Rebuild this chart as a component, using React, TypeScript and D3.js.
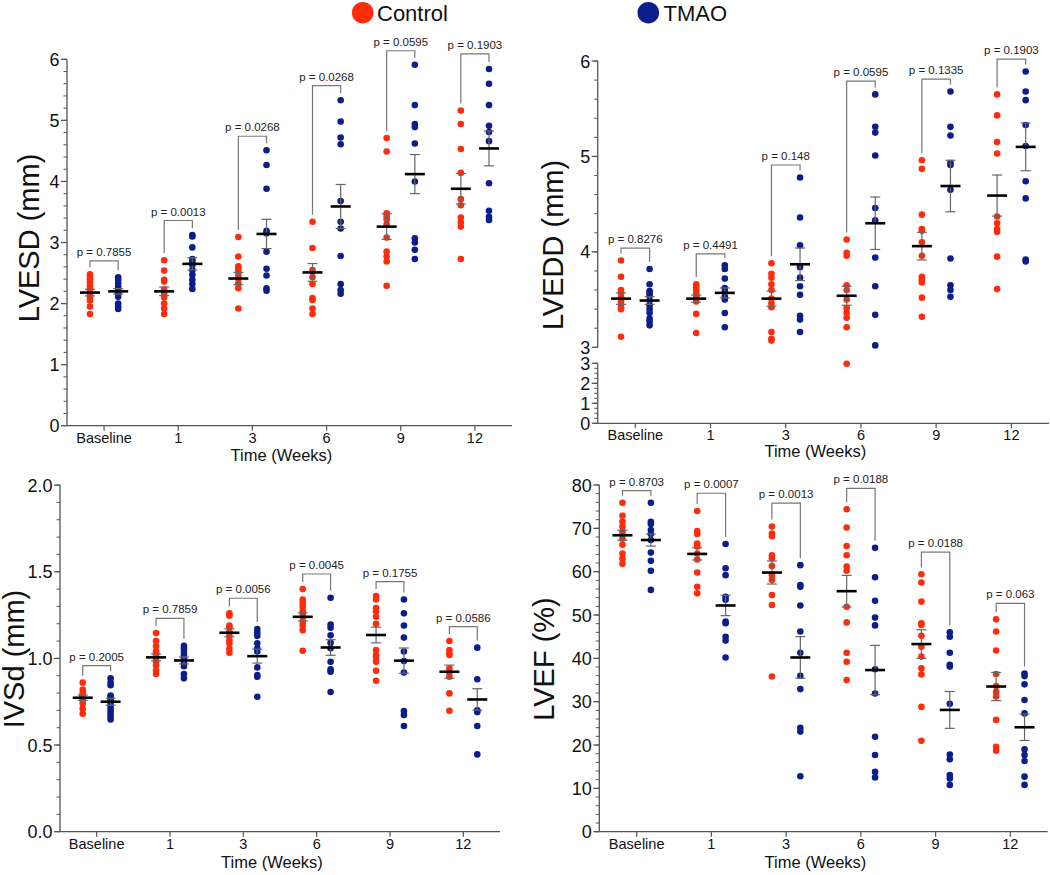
import React from 'react';
import * as d3 from 'd3';

const weeks = ['Baseline', '1', '3', '6', '9', '12'];

// ---------- LVESD ----------
const lvesdControl = [
  [2.48, 2.44, 2.40, 2.35, 2.30, 2.25, 2.20, 2.15, 2.10, 2.05, 1.95, 1.83],
  [2.71, 2.54, 2.39, 2.36, 2.23, 2.17, 2.10, 2.00, 1.92, 1.83],
  [3.09, 2.77, 2.61, 2.57, 2.54, 2.47, 2.41, 2.33, 2.25, 1.92],
  [3.34, 2.91, 2.55, 2.52, 2.43, 2.32, 2.09, 2.06, 1.92, 1.83],
  [4.71, 4.49, 3.48, 3.43, 3.38, 3.30, 3.08, 2.85, 2.77, 2.69, 2.29],
  [5.16, 4.94, 4.53, 4.14, 3.71, 3.61, 3.41, 3.33, 3.26, 2.73],
];
const lvesdTmao = [
  [2.43, 2.39, 2.33, 2.28, 2.22, 2.19, 2.17, 2.11, 2.00, 1.95, 1.91],
  [3.12, 3.10, 2.92, 2.73, 2.69, 2.63, 2.55, 2.47, 2.39, 2.32, 2.24],
  [4.51, 4.27, 3.88, 3.19, 3.15, 2.85, 2.57, 2.46, 2.25, 2.21],
  [5.33, 4.98, 4.72, 4.61, 3.68, 3.34, 3.23, 2.78, 2.32, 2.22, 2.16],
  [5.91, 5.25, 4.94, 4.89, 4.62, 4.00, 3.07, 3.00, 2.88, 2.73],
  [5.84, 5.60, 5.25, 4.91, 4.81, 4.66, 3.97, 3.52, 3.42, 3.37],
];
const lvesdControlMean = [2.18, 2.20, 2.41, 2.51, 3.26, 3.88];
const lvesdControlSem = [0.055, 0.07, 0.10, 0.145, 0.21, 0.25];
const lvesdTmaoMean = [2.20, 2.65, 3.14, 3.59, 4.12, 4.54];
const lvesdTmaoSem = [0.045, 0.10, 0.24, 0.36, 0.32, 0.285];
const lvesdP = ['0.7855', '0.0013', '0.0268', '0.0268', '0.0595', '0.1903'];
const lvesdBracket = [2.70, 3.36, 4.74, 5.57, 6.14, 6.09];

// ---------- LVEDD ----------
const lveddControl = [
  [3.91, 3.74, 3.60, 3.57, 3.52, 3.48, 3.45, 3.42, 3.40, 3.11],
  [3.66, 3.63, 3.60, 3.57, 3.55, 3.53, 3.51, 3.48, 3.35, 3.15],
  [3.88, 3.77, 3.73, 3.66, 3.60, 3.51, 3.46, 3.42, 3.16, 3.09, 3.07],
  [4.13, 3.99, 3.96, 3.65, 3.60, 3.50, 3.41, 3.36, 3.31, 3.21, 2.98],
  [4.96, 4.87, 4.39, 4.24, 4.22, 4.10, 3.96, 3.74, 3.71, 3.68, 3.52, 3.32],
  [5.65, 5.43, 5.15, 5.03, 4.37, 4.30, 4.24, 4.21, 3.95, 3.61],
];
const lveddTmao = [
  [3.82, 3.66, 3.59, 3.57, 3.54, 3.49, 3.44, 3.40, 3.36, 3.30, 3.27, 3.23],
  [3.86, 3.82, 3.72, 3.62, 3.58, 3.53, 3.50, 3.36, 3.21],
  [4.78, 4.36, 4.07, 3.84, 3.73, 3.64, 3.55, 3.33, 3.29, 3.16],
  [5.65, 5.31, 5.25, 5.01, 4.46, 4.33, 3.94, 3.64, 3.34, 3.02],
  [5.68, 5.31, 5.22, 4.93, 4.91, 4.65, 3.93, 3.65, 3.60, 3.53],
  [5.89, 5.68, 5.59, 5.33, 5.11, 4.74, 4.56, 3.92, 3.90],
];
const lveddControlMean = [3.51, 3.51, 3.51, 3.54, 4.06, 4.59];
const lveddControlSem = [0.06, 0.037, 0.08, 0.10, 0.145, 0.215];
const lveddTmaoMean = [3.49, 3.57, 3.87, 4.30, 4.69, 5.10];
const lveddTmaoSem = [0.04, 0.052, 0.17, 0.275, 0.27, 0.25];
const lveddP = ['0.8276', '0.4491', '0.148', '0.0595', '0.1335', '0.1903'];
const lveddBracket = [4.04, 3.98, 4.91, 5.79, 5.81, 6.02];

// ---------- IVSd ----------
const ivsdControl = [
  [0.86, 0.82, 0.80, 0.79, 0.78, 0.77, 0.76, 0.74, 0.71, 0.68],
  [1.146, 1.10, 1.07, 1.04, 1.03, 1.02, 1.00, 0.98, 0.96, 0.93, 0.91],
  [1.26, 1.246, 1.19, 1.18, 1.154, 1.13, 1.106, 1.087, 1.056, 1.033],
  [1.40, 1.34, 1.32, 1.30, 1.275, 1.256, 1.237, 1.21, 1.19, 1.163, 1.044],
  [1.36, 1.34, 1.29, 1.27, 1.24, 1.20, 1.048, 1.02, 1.006, 0.98, 0.929, 0.871],
  [1.10, 1.048, 1.029, 1.02, 0.942, 0.917, 0.894, 0.798, 0.698],
];
const ivsdTmao = [
  [0.885, 0.86, 0.845, 0.785, 0.775, 0.756, 0.737, 0.717, 0.70, 0.683, 0.665, 0.648],
  [1.073, 1.058, 1.038, 1.02, 1.00, 0.97, 0.955, 0.91, 0.885],
  [1.17, 1.15, 1.13, 1.087, 1.058, 1.04, 0.948, 0.904, 0.894, 0.779],
  [1.35, 1.196, 1.177, 1.133, 1.09, 1.058, 0.98, 0.937, 0.923, 0.806],
  [1.34, 1.26, 1.19, 1.12, 1.04, 0.985, 0.919, 0.696, 0.673, 0.61],
  [1.062, 0.88, 0.70, 0.69, 0.61, 0.446],
];
const ivsdControlMean = [0.773, 1.006, 1.148, 1.24, 1.135, 0.923];
const ivsdControlSem = [0.015, 0.02, 0.023, 0.023, 0.045, 0.038];
const ivsdTmaoMean = [0.75, 0.988, 1.013, 1.063, 0.987, 0.763];
const ivsdTmaoSem = [0.02, 0.02, 0.04, 0.045, 0.073, 0.062];
const ivsdP = ['0.2005', '0.7859', '0.0056', '0.0045', '0.1755', '0.0586'];
const ivsdBracket = [0.958, 1.231, 1.347, 1.487, 1.443, 1.183];

// ---------- LVEF ----------
const lvefControl = [
  [75.9, 72.9, 71.5, 70.4, 69.2, 68.5, 67.6, 66.2, 64.2, 63.0, 61.8],
  [74.0, 69.4, 68.7, 66.5, 65.8, 64.2, 62.8, 59.8, 56.5, 55.0],
  [70.4, 68.8, 68.2, 63.8, 63.1, 61.3, 59.2, 58.1, 54.6, 52.3, 35.8],
  [74.4, 70.2, 65.9, 63.8, 61.2, 60.2, 51.9, 48.3, 41.3, 39.2, 35.0],
  [59.4, 57.5, 53.1, 48.1, 47.7, 45.2, 42.7, 40.4, 37.7, 36.3, 28.8, 21.0],
  [49.0, 46.2, 41.8, 36.4, 33.6, 32.3, 31.2, 25.8, 19.6, 18.7],
];
const lvefTmao = [
  [75.9, 71.5, 71.0, 69.6, 68.7, 67.3, 64.4, 62.5, 60.2, 55.8],
  [66.4, 60.8, 59.2, 54.2, 53.5, 48.5, 48.1, 45.0, 44.1, 40.2],
  [61.5, 56.9, 56.5, 52.2, 46.2, 41.3, 36.0, 32.9, 24.0, 23.1, 12.8],
  [65.5, 58.7, 53.3, 49.4, 47.6, 37.5, 31.9, 21.9, 17.7, 13.8, 12.5],
  [46.0, 45.0, 41.3, 38.5, 38.1, 29.5, 17.8, 16.7, 13.1, 12.3, 10.8],
  [36.5, 35.9, 34.0, 30.4, 27.3, 19.0, 17.7, 16.3, 12.7, 10.8],
];
const lvefControlMean = [68.4, 64.1, 59.8, 55.5, 43.3, 33.5];
const lvefControlSem = [1.15, 1.4, 2.65, 3.65, 3.3, 3.25];
const lvefTmaoMean = [67.3, 52.2, 40.2, 37.3, 28.1, 24.1];
const lvefTmaoSem = [1.4, 2.35, 4.8, 5.7, 4.25, 3.05];
const lvefP = ['0.8703', '0.0007', '0.0013', '0.0188', '0.0188', '0.063'];
const lvefBracket = [78.7, 78.1, 75.8, 79.2, 64.5, 52.7];

// ---------- styling ----------
const RED = '#ff2b0a';
const BLUE = '#0c1d8c';
const AXIS = '#555';
const FONT = '"Liberation Sans", Arial, Helvetica, sans-serif';

type Seg = {
  scale: d3.ScaleLinear<number, number>;
  majors: number[];
  minors: number[];
  fmt: (v: number) => string;
};

type PanelProps = {
  ctrl: number[][];
  tmao: number[][];
  ctrlMean: number[];
  ctrlSem: number[];
  tmaoMean: number[];
  tmaoSem: number[];
  pLabels: string[];
  bracket: number[];
  x0: number;
  x1: number;
  yBase: number;
  y: (v: number) => number;
  segs: Seg[];
  yTitle: string;
  yTitleX: number;
  yTitleY: number;
  xTickY: number;
  xTitleY: number;
};

const range = (a: number, b: number, step: number) => {
  const out: number[] = [];
  for (let v = a; v <= b + 1e-9; v += step) out.push(Math.round(v * 1000) / 1000);
  return out;
};

function Panel(p: PanelProps) {
  const xb = d3.scaleBand<string>().domain(weeks).range([p.x0, p.x1]).padding(0);
  const bw = xb.bandwidth();
  const off = bw * 0.19;
  const cx = (w: string) => (xb(w) as number) + bw / 2;

  const groups: JSX.Element[] = [];
  weeks.forEach((w, i) => {
    const xc = cx(w) - off;
    const xt = cx(w) + off;
    const series = [
      { x: xc, vals: p.ctrl[i], mean: p.ctrlMean[i], sem: p.ctrlSem[i], color: RED },
      { x: xt, vals: p.tmao[i], mean: p.tmaoMean[i], sem: p.tmaoSem[i], color: BLUE },
    ];
    series.forEach((s, k) => {
      groups.push(
        <g key={`d${i}-${k}`}>
          {s.vals.map((v, j) => (
            <circle key={j} cx={s.x} cy={p.y(v)} r={3.3} fill={s.color} />
          ))}
        </g>
      );
    });
    series.forEach((s, k) => {
      const yHi = p.y(s.mean + s.sem);
      const yLo = p.y(s.mean - s.sem);
      groups.push(
        <g key={`e${i}-${k}`}>
          <line x1={s.x} x2={s.x} y1={yHi} y2={yLo} stroke="#666" strokeWidth={1.2} />
          <line x1={s.x - 5} x2={s.x + 5} y1={yHi} y2={yHi} stroke="#666" strokeWidth={1.2} />
          <line x1={s.x - 5} x2={s.x + 5} y1={yLo} y2={yLo} stroke="#666" strokeWidth={1.2} />
          <line x1={s.x - 10} x2={s.x + 10} y1={p.y(s.mean)} y2={p.y(s.mean)} stroke="#000" strokeWidth={2.6} />
        </g>
      );
    });
    const top = p.y(p.bracket[i]);
    const legC = p.y(d3.max(p.ctrl[i]) as number) - 7;
    const legT = p.y(d3.max(p.tmao[i]) as number) - 7;
    groups.push(
      <g key={`b${i}`}>
        <path
          d={`M${xc},${legC}V${top}H${xt}V${legT}`}
          fill="none"
          stroke="#777"
          strokeWidth={1.2}
        />
        <text x={(xc + xt) / 2} y={top - 5} textAnchor="middle" fontSize={11.5} fill="#222" fontFamily={FONT}>
          {`p = ${p.pLabels[i]}`}
        </text>
      </g>
    );
  });

  return (
    <g>
      {p.segs.map((s, si) => {
        const [r0, r1] = s.scale.range();
        return (
          <g key={`s${si}`}>
            <line x1={p.x0} x2={p.x0} y1={r0} y2={r1} stroke={AXIS} strokeWidth={1.3} />
            {s.minors.map((v) => (
              <line key={`m${v}`} x1={p.x0 - 3.5} x2={p.x0} y1={s.scale(v)} y2={s.scale(v)} stroke={AXIS} strokeWidth={1} />
            ))}
            {s.majors.map((v) => (
              <g key={`M${v}`}>
                <line x1={p.x0 - 6} x2={p.x0} y1={s.scale(v)} y2={s.scale(v)} stroke={AXIS} strokeWidth={1.3} />
                <text
                  x={p.x0 - 7.5}
                  y={s.scale(v) + 6.5}
                  textAnchor="end"
                  fontSize={18}
                  fontFamily={FONT}
                  fill="#111"
                >
                  {s.fmt(v)}
                </text>
              </g>
            ))}
          </g>
        );
      })}
      <line x1={p.x0} x2={p.x1} y1={p.yBase} y2={p.yBase} stroke={AXIS} strokeWidth={1.3} />
      {weeks.map((w) => (
        <g key={`x${w}`}>
          <line x1={cx(w)} x2={cx(w)} y1={p.yBase} y2={p.yBase + 5} stroke={AXIS} strokeWidth={1.2} />
          <text x={cx(w)} y={p.xTickY} textAnchor="middle" fontSize={14.5} fontFamily={FONT} fill="#111">
            {w}
          </text>
        </g>
      ))}
      <text
        x={(p.x0 + p.x1) / 2 - 8}
        y={p.xTitleY}
        textAnchor="middle"
        fontSize={16.5}
        fontFamily={FONT}
        fill="#111"
      >
        Time (Weeks)
      </text>
      <text
        transform={`translate(${p.yTitleX},${p.yTitleY}) rotate(-90)`}
        textAnchor="middle"
        fontSize={29}
        fontFamily={FONT}
        fill="#111"
      >
        {p.yTitle}
      </text>
      {groups}
    </g>
  );
}

export default function App() {
  const int = (v: number) => String(v);
  const one = (v: number) => v.toFixed(1);

  // Panel 1: LVESD
  const y1 = d3.scaleLinear().domain([0, 6]).range([425.7, 59.3]);
  // Panel 2: LVEDD (broken axis)
  const y2u = d3.scaleLinear().domain([3, 6]).range([347.3, 61]);
  const y2l = d3.scaleLinear().domain([0, 3]).range([423.3, 363.3]);
  const y2 = (v: number) => (v >= 3 ? y2u(v) : y2l(v));
  // Panel 3: IVSd
  const y3 = d3.scaleLinear().domain([0, 2]).range([831.7, 485.1]);
  // Panel 4: LVEF
  const y4 = d3.scaleLinear().domain([0, 80]).range([831.7, 485]);

  return (
    <svg
      width={1050}
      height={875}
      style={{ position: 'absolute', left: 0, top: 0, background: '#fff' }}
      xmlns="http://www.w3.org/2000/svg"
    >
      <rect width={1050} height={875} fill="#fff" />
      {/* legend */}
      <circle cx={362.7} cy={12.7} r={10.8} fill={RED} />
      <text x={377} y={20.6} fontSize={22} fontFamily={FONT} fill="#111">Control</text>
      <circle cx={648.3} cy={12.7} r={10.8} fill={BLUE} />
      <text x={663.5} y={20.6} fontSize={22} fontFamily={FONT} fill="#111">TMAO</text>

      <Panel
        ctrl={lvesdControl}
        tmao={lvesdTmao}
        ctrlMean={lvesdControlMean}
        ctrlSem={lvesdControlSem}
        tmaoMean={lvesdTmaoMean}
        tmaoSem={lvesdTmaoSem}
        pLabels={lvesdP}
        bracket={lvesdBracket}
        x0={67}
        x1={512}
        yBase={425.7}
        y={(v) => y1(v)}
        segs={[{ scale: y1, majors: range(0, 6, 1), minors: range(0, 6, 0.2), fmt: int }]}
        yTitle="LVESD (mm)"
        yTitleX={39}
        yTitleY={238}
        xTickY={443}
        xTitleY={461}
      />
      <Panel
        ctrl={lveddControl}
        tmao={lveddTmao}
        ctrlMean={lveddControlMean}
        ctrlSem={lveddControlSem}
        tmaoMean={lveddTmaoMean}
        tmaoSem={lveddTmaoSem}
        pLabels={lveddP}
        bracket={lveddBracket}
        x0={597.7}
        x1={1049}
        yBase={423.3}
        y={y2}
        segs={[
          { scale: y2u, majors: range(3, 6, 1), minors: range(3, 6, 0.2), fmt: int },
          { scale: y2l, majors: range(0, 3, 1), minors: range(0, 3, 0.25), fmt: int },
        ]}
        yTitle="LVEDD (mm)"
        yTitleX={563}
        yTitleY={245}
        xTickY={440}
        xTitleY={457}
      />
      <Panel
        ctrl={ivsdControl}
        tmao={ivsdTmao}
        ctrlMean={ivsdControlMean}
        ctrlSem={ivsdControlSem}
        tmaoMean={ivsdTmaoMean}
        tmaoSem={ivsdTmaoSem}
        pLabels={ivsdP}
        bracket={ivsdBracket}
        x0={60}
        x1={500}
        yBase={831.7}
        y={(v) => y3(v)}
        segs={[{ scale: y3, majors: range(0, 2, 0.5), minors: range(0, 2, 0.1), fmt: one }]}
        yTitle="IVSd (mm)"
        yTitleX={24}
        yTitleY={659}
        xTickY={848.5}
        xTitleY={868}
      />
      <Panel
        ctrl={lvefControl}
        tmao={lvefTmao}
        ctrlMean={lvefControlMean}
        ctrlSem={lvefControlSem}
        tmaoMean={lvefTmaoMean}
        tmaoSem={lvefTmaoSem}
        pLabels={lvefP}
        bracket={lvefBracket}
        x0={599.3}
        x1={1047.7}
        yBase={831.7}
        y={(v) => y4(v)}
        segs={[{ scale: y4, majors: range(0, 80, 10), minors: range(0, 80, 2), fmt: int }]}
        yTitle="LVEF (%)"
        yTitleX={554}
        yTitleY={659}
        xTickY={848.5}
        xTitleY={868}
      />
    </svg>
  );
}
